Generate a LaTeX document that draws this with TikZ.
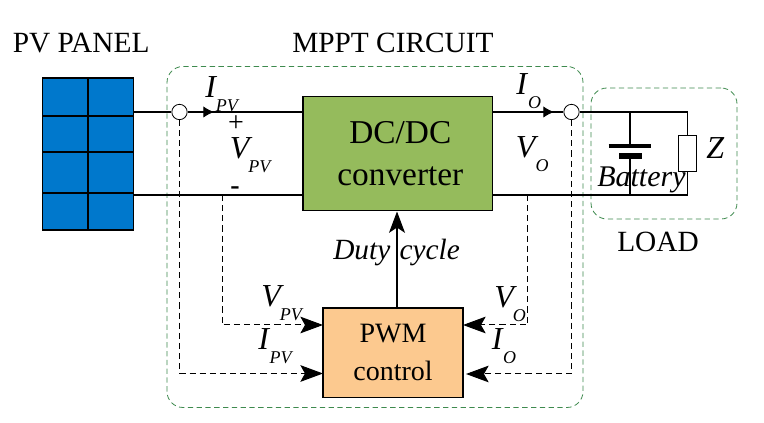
\documentclass[tikz,border=0pt]{standalone}
\usepackage{fontspec}
\setmainfont{Liberation Serif}
\usetikzlibrary{arrows.meta}
\definecolor{panelblue}{HTML}{0078CC}
\definecolor{convgreen}{HTML}{95BB5C}
\definecolor{pwmorange}{HTML}{FCC98F}
\definecolor{framegreen}{HTML}{3E8A4E}
% symbol with a lowered, smaller subscript
\newcommand{\symb}[3][0pt]{\fontsize{24}{24}\selectfont\textit{#2}\hspace{#1}\raisebox{-10pt}{\fontsize{13.5}{13.5}\selectfont\textit{#3}}}
\tikzset{
  wire/.style={line width=0.8pt},
  sense/.style={line width=0.75pt,dash pattern=on 4.6pt off 3pt},
  bigtip/.style={-{Stealth[length=17pt,width=12.5pt,inset=3.5pt]}},
  smalltip/.style={-{Latex[length=8pt,width=8.5pt]}},
  block/.style={draw=black,line width=0.9pt,inner sep=0pt,outer sep=0pt},
  frame/.style={draw=framegreen,line width=0.6pt,dash pattern=on 4pt off 2.6pt,rounded corners=12pt,outer sep=0pt},
  cell/.style={draw=black,fill=panelblue,line width=0.8pt,minimum width=34pt,inner sep=0pt,outer sep=0pt,anchor=north west},
  tap/.style={circle,draw=black,line width=0.6pt,fill=none,minimum size=11.5pt,inner sep=0pt},
  head/.style={font=\fontsize{22}{22}\selectfont,inner sep=0pt,anchor=base west},
  sym/.style={inner sep=0pt,anchor=base west},
}
\begin{document}
\begin{tikzpicture}[x=0.75pt,y=-0.75pt]
\useasboundingbox (0,0) rectangle (764,423);
\fill[white] (0,0) rectangle (764,423);

% enclosures
\node[frame,minimum width=312pt,minimum height=255.75pt,anchor=north west] (mppt) at (167,66.5) {};
\node[frame,minimum width=109.5pt,minimum height=98.25pt,anchor=north west] (load) at (591,88) {};

% PV array, two columns by four rows
\node[cell,minimum height=28.5pt] (c11) at (42.5,78) {};
\node[cell,minimum height=28.5pt] (c12) at (88.5,78) {};
\node[cell,minimum height=27pt] (c21) at (42.5,116) {};
\node[cell,minimum height=27pt] (c22) at (88.5,116) {};
\node[cell,minimum height=30.75pt] (c31) at (42.5,152) {};
\node[cell,minimum height=30.75pt] (c32) at (88.5,152) {};
\node[cell,minimum height=27.75pt] (c41) at (42.5,193) {};
\node[cell,minimum height=27.75pt] (c42) at (88.5,193) {};

% blocks
\node[block,fill=convgreen,minimum width=142pt,minimum height=85.5pt,anchor=north west,align=center,font=\fontsize{25}{32}\selectfont] (conv) at (303,96.5) {\hspace*{4pt}DC/DC\\\hspace*{4pt}converter};
\node[block,fill=pwmorange,minimum width=105pt,minimum height=67pt,anchor=north west,align=center,font=\fontsize{21}{28.5}\selectfont] (pwm) at (323,308) {PWM\\control};

% junctions and reference points
\node[tap] (tapin) at (179.5,112) {};
\node[tap] (tapout) at (571.5,112) {};
\coordinate (panelT) at (134,112);
\coordinate (panelB) at (134,195);
\coordinate (convTL) at (303,112);
\coordinate (convBL) at (303,195);
\coordinate (convTR) at (492.5,112);
\coordinate (convBR) at (492.5,195);
\coordinate (topR) at (687.5,112);
\coordinate (botR) at (687.5,195);
\coordinate (batT) at (630,112);
\coordinate (batB) at (630,195);
\coordinate (plateA) at (630,146);
\coordinate (plateB) at (630,156);
\coordinate (arrIn) at (214,112);
\coordinate (arrOut) at (554,112);
\coordinate (senseVin) at (222,195);
\coordinate (senseVout) at (527.5,195);
\coordinate (pwmVin) at (323,325);
\coordinate (pwmIin) at (323,373.5);
\coordinate (pwmVout) at (463,325);
\coordinate (pwmIout) at (466,374);
\coordinate (dutyFrom) at (397,308);
\coordinate (dutyTo) at (397,211.5);

% load resistor
\node[block,fill=white,minimum width=14pt,minimum height=27.5pt] (res) at (687.5,153.5) {};

% power wiring
\draw[wire] (panelT) -- (tapin.west);
\draw[wire] (tapin.east) -- (convTL);
\draw[wire] (panelB) -- (convBL);
\draw[wire] (convTR) -- (tapout.west);
\draw[wire] (tapout.east) -- (topR) -- (res.north);
\draw[wire] (res.south) -- (botR) -- (convBR);
\draw[wire] (batT) -- (plateA);
\draw[wire] (plateB) -- (batB);

% battery plates
\draw[line width=3pt] (608.5,146) -- (651,146);
\draw[line width=4.5pt] (619,156) -- (642,156);

% current direction marks
\draw[wire,smalltip] (203,112) -- (arrIn);
\draw[wire,smalltip] (544,112) -- (arrOut);

% sensing lines
\draw[sense,bigtip] (tapin.south) |- (pwmIin);
\draw[sense,bigtip] (senseVin) |- (pwmVin);
\draw[sense,bigtip] (senseVout) |- (pwmVout);
\draw[sense,bigtip] (tapout.south) |- (pwmIout);

% control signal
\draw[wire,-{Stealth[length=16pt,width=12pt,inset=4pt]}] (dutyFrom) -- (dutyTo);

% headings
\node[head] (tpv) at (12.5,53) {PV PANEL};
\node[head] (tmppt) at (292,53) {MPPT CIRCUIT};
\node[head] (tload) at (617,252) {LOAD};

% electrical labels
\node[sym] (lipv) at (205,98) {\symb[-1pt]{I}{PV}};
\node[sym] (lio) at (516,95) {\symb[0pt]{I}{O}};
\node[sym] (lvpv) at (229.5,159) {\symb[-3pt]{V}{PV}};
\node[sym] (lvo) at (515.5,158) {\symb[-2pt]{V}{O}};
\node[sym] (lvpv2) at (261,307) {\symb[-3pt]{V}{PV}};
\node[sym] (lipv2) at (258,350) {\symb[-0.5pt]{I}{PV}};
\node[sym] (lvo2) at (494,308) {\symb[-3pt]{V}{O}};
\node[sym] (lio2) at (491.5,350) {\symb[-0.5pt]{I}{O}};
\node[inner sep=0pt,font=\fontsize{21}{21}\selectfont] (lplus) at (236,124) {+};
\node[inner sep=0pt,font=\fontsize{21}{21}\selectfont\bfseries] (lminus) at (235,191) {-};
\node[sym,font=\fontsize{24}{24}\selectfont\itshape] (lz) at (706,159) {Z};
\node[sym,font=\fontsize{22.5}{22.5}\selectfont\itshape] (lbat) at (597,187) {Battery};
\node[sym,font=\fontsize{22}{22}\selectfont\itshape] (lduty) at (333,260) {Duty\hspace{7pt}cycle};
\end{tikzpicture}
\end{document}
